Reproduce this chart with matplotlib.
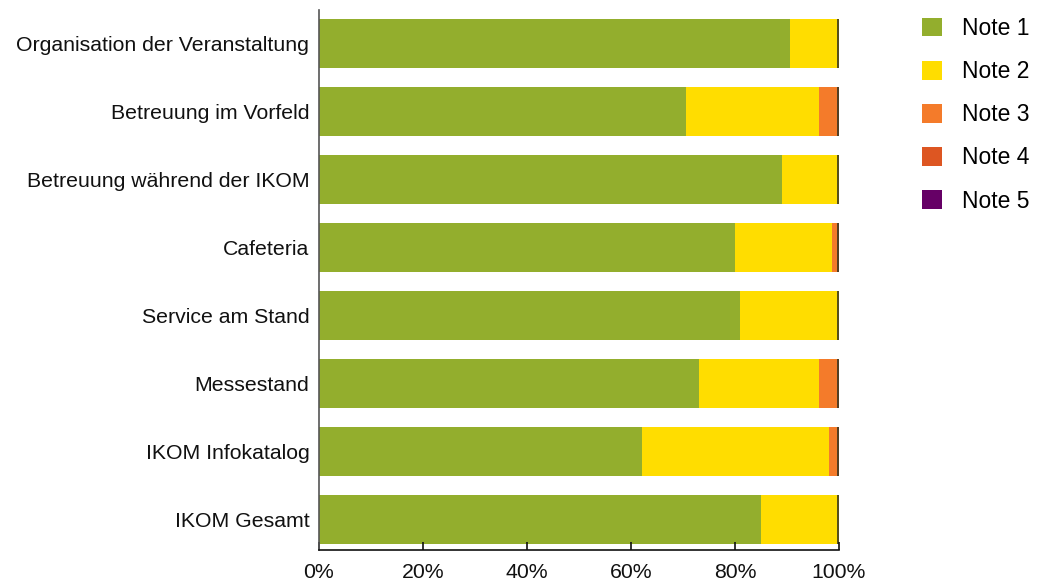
import matplotlib
matplotlib.use("Agg")
import matplotlib.pyplot as plt
from matplotlib.patches import Patch
import numpy as np

plt.rcParams['font.family'] = ['Liberation Sans', 'DejaVu Sans']

categories = ["Organisation der Veranstaltung", "Betreuung im Vorfeld",
              "Betreuung während der IKOM", "Cafeteria", "Service am Stand",
              "Messestand", "IKOM Infokatalog", "IKOM Gesamt"]
note1 = [90.6, 70.6, 89.0, 80.0, 81.0, 73.1, 62.1, 85.0]
note2 = [9.4, 25.6, 11.0, 18.7, 19.0, 23.1, 36.0, 15.0]
note3 = [0.0, 3.8, 0.0, 1.3, 0.0, 3.8, 1.9, 0.0]
note4 = [0.0, 0.0, 0.0, 0.0, 0.0, 0.0, 0.0, 0.0]
note5 = [0.0, 0.0, 0.0, 0.0, 0.0, 0.0, 0.0, 0.0]
series_names = ["Note 1", "Note 2", "Note 3", "Note 4", "Note 5"]
colors = ["#93AE2D", "#FFDD00", "#F47B2A", "#DD5622", "#660066"]
xticks = [0, 20, 40, 60, 80, 100]

fig = plt.figure(figsize=(10.49, 5.84), dpi=100)
ax = fig.add_axes([319/1049, 1-550/584, 520/1049, 540/584])

y = np.arange(len(categories))
left = np.zeros(len(categories))
series = [note1, note2, note3, note4, note5]
for vals, c in zip(series, colors):
    vals = np.array(vals)
    ax.barh(y, vals, left=left, height=0.72, color=c, edgecolor='none')
    left = left + vals
# thin dark edge at the end of each bar (zero-width closing segment)
ax.barh(y, np.zeros(len(categories)), left=left - 0.15, height=0.72,
        color='none', edgecolor='#333322', linewidth=1.2)

ax.set_ylim(7.45, -0.49)
ax.set_xlim(0, 100)
ax.set_yticks(y)
ax.set_yticklabels(categories, fontsize=15.3, color='#111111')
ax.set_xticks(xticks)
ax.set_xticklabels([f"{t}%" for t in xticks], fontsize=15.3, color='#111111')
ax.tick_params(axis='y', length=0, pad=7)
ax.tick_params(axis='x', direction='in', length=6, width=1.2, color='#111111', pad=9)
for s in ['top', 'right']:
    ax.spines[s].set_visible(False)
ax.spines['left'].set_color('#555555')
ax.spines['left'].set_linewidth(1.2)
ax.spines['bottom'].set_color('#111111')
ax.spines['bottom'].set_linewidth(1.2)

handles = [Patch(facecolor=c, edgecolor='none') for c in colors]
fig.legend(handles, series_names, loc='upper left',
           bbox_to_anchor=(922/1049, 1-17/584), frameon=False,
           fontsize=16.5, handlelength=0.87, handleheight=0.87,
           handletextpad=0.87, labelspacing=0.88, borderpad=0, borderaxespad=0)

fig.savefig("out.png", dpi=100, facecolor='white')
